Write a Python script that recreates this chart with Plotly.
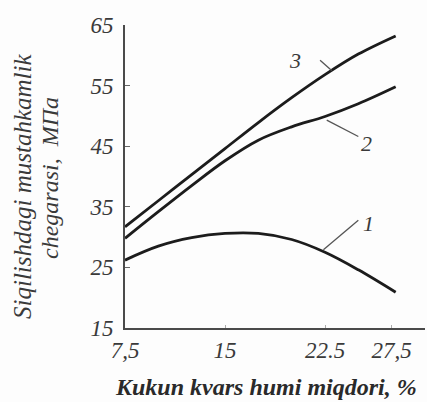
import plotly.graph_objects as go

# ---- data ----
x_pts = [7.5, 10, 12.5, 15, 17.5, 20, 22.5, 25, 27.8]
y1 = [26.2, 28.5, 29.9, 30.6, 30.6, 29.6, 27.5, 24.6, 20.9]
y2 = [29.8, 34.2, 38.5, 42.6, 46.0, 48.2, 49.9, 52.0, 54.8]
y3 = [31.7, 36.0, 40.3, 44.6, 48.9, 53.0, 56.8, 60.2, 63.2]

curve_labels = ["1", "2", "3"]
label_x = [25.75, 25.63, 20.25]
label_y = [32.3, 45.5, 59.2]
leader_from_x = [22.38, 22.63, 23.0]
leader_from_y = [27.9, 49.3, 57.5]
leader_to_x = [25.0, 25.0, 22.13]
leader_to_y = [32.8, 46.6, 59.2]

x_tickvals = [7.5, 15, 22.5, 27.5]
x_ticktext = ["7,5", "15", "22.5", "27,5"]
y_tickvals = [15, 25, 35, 45, 55, 65]
y_ticktext = ["15", "25", "35", "45", "55", "65"]

x_title = "Kukun kvars humi miqdori, %"
y_title_1 = "Siqilishdagi mustahkamlik"
y_title_2 = "chegarasi,  МПа"

SERIF = "Liberation Serif, serif"
LINE = "#1c1c1c"
TEXT = "#3a3a3a"

W, H = 427, 402
L, R, T, B = 125, 2, 25, 74
pw, ph = W - L - R, H - T - B


def px_x(p):
    return (p - L) / pw


def px_y(p):
    return (H - B - p) / ph


fig = go.Figure()
for ys in (y1, y2, y3):
    fig.add_trace(go.Scatter(x=x_pts, y=ys, mode="lines",
                             line=dict(color=LINE, width=2.8, shape="spline", smoothing=1.0),
                             showlegend=False, hoverinfo="skip"))

for i, t in enumerate(curve_labels):
    fig.add_shape(type="line", xref="x", yref="y",
                  x0=leader_from_x[i], y0=leader_from_y[i],
                  x1=leader_to_x[i], y1=leader_to_y[i],
                  line=dict(color="#555555", width=1.3))
    fig.add_annotation(x=label_x[i], y=label_y[i], xref="x", yref="y", text=t,
                       showarrow=False,
                       font=dict(family=SERIF, size=22, color=TEXT, style="italic"))

fig.add_annotation(x=px_x(266), y=px_y(387), xref="paper", yref="paper", text=x_title,
                   showarrow=False, xanchor="center", yanchor="middle",
                   font=dict(family=SERIF, size=24, color="#2a2a2a", style="italic", weight="bold"))

fig.add_annotation(x=px_x(22), y=px_y(187), xref="paper", yref="paper", text=y_title_1,
                   showarrow=False, textangle=-90, xanchor="center", yanchor="middle",
                   font=dict(family=SERIF, size=25, color=TEXT, style="italic"))
fig.add_annotation(x=px_x(50), y=px_y(178), xref="paper", yref="paper", text=y_title_2,
                   showarrow=False, textangle=-90, xanchor="center", yanchor="middle",
                   font=dict(family=SERIF, size=24, color=TEXT, style="italic"))

fig.update_layout(
    width=W, height=H,
    margin=dict(l=L, r=R, t=T, b=B, pad=0, autoexpand=False),
    paper_bgcolor="#fdfdfd", plot_bgcolor="#fdfdfd",
    xaxis=dict(range=[7.5, 30.0], tickvals=x_tickvals, ticktext=x_ticktext,
               showgrid=False, zeroline=False, showline=True, linecolor="#4a4a4a", linewidth=2,
               ticks="inside", ticklen=3, tickcolor="#aaaaaa", automargin=False,
               tickfont=dict(family=SERIF, size=23, color=TEXT, style="italic")),
    yaxis=dict(range=[15, 65], tickvals=y_tickvals, ticktext=y_ticktext,
               showgrid=False, zeroline=False, showline=True, linecolor="#4a4a4a", linewidth=2,
               ticks="inside", ticklen=5, tickcolor="#666666", automargin=False,
               ticklabelstandoff=5,
               tickfont=dict(family=SERIF, size=23, color=TEXT, style="italic")),
)

fig.write_html("out.html", config={"displayModeBar": False},
               post_script="document.body.style.margin='0';document.body.style.background='#fdfdfd';")
